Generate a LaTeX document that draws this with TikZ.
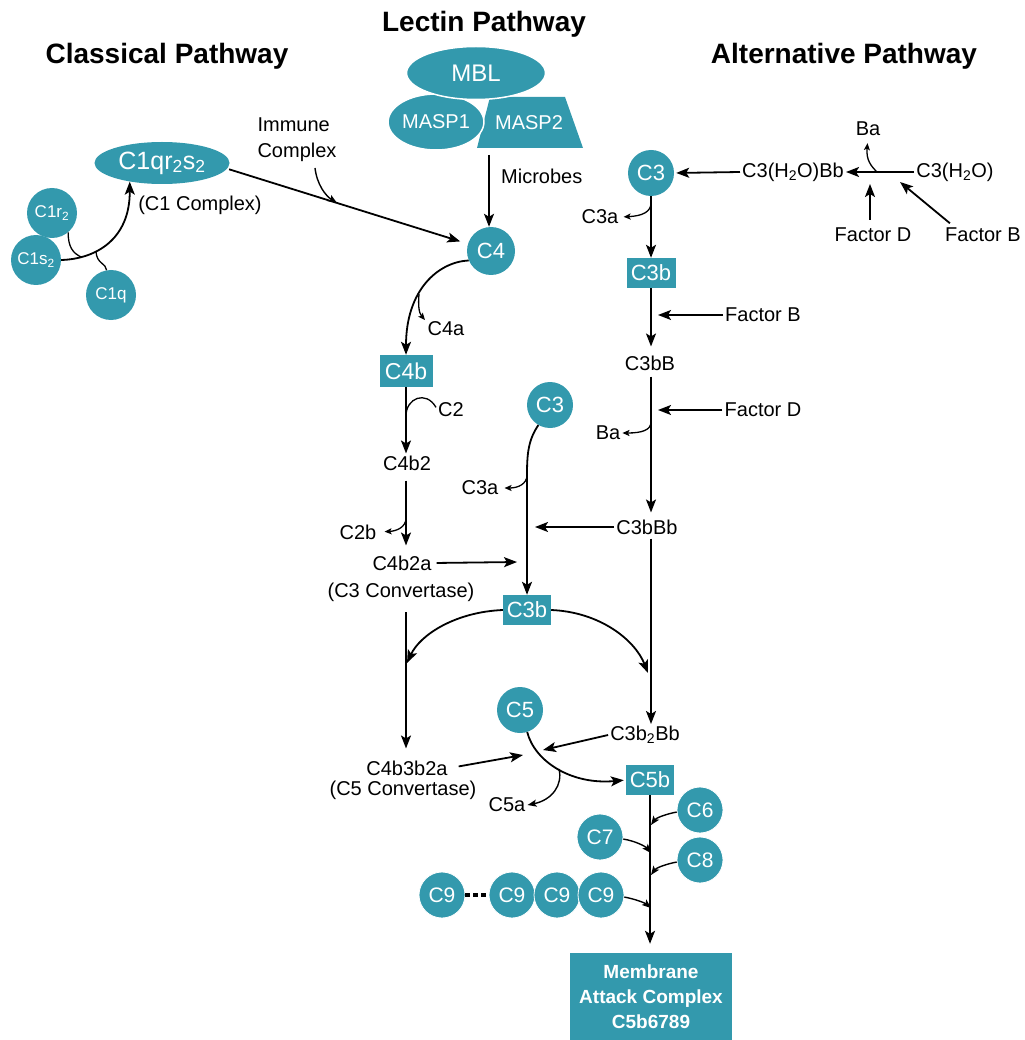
\documentclass[tikz,border=0pt]{standalone}
\usepackage{fontspec}
\setmainfont{Liberation Sans}
\usetikzlibrary{arrows.meta,shapes.geometric}
\definecolor{tealc}{HTML}{3399AD}
\begin{document}
\begin{tikzpicture}[x=1pt,y=-1pt,
  lbl/.style={inner sep=2pt,font=\fontsize{20}{24}\selectfont},
  ttl/.style={inner sep=0pt,font=\bfseries\fontsize{28}{32}\selectfont},
  circ/.style={circle,fill=tealc,minimum size=47pt,inner sep=0pt,text=white,font=\fontsize{22}{24}\selectfont},
  scirc/.style={circ,minimum size=50pt,font=\fontsize{17}{20}\selectfont},
  ncirc/.style={circ,minimum size=46pt,draw=white,line width=0.8pt,font=\fontsize{21}{24}\selectfont},
  sbox/.style={rectangle,fill=tealc,minimum width=49pt,minimum height=30pt,inner sep=0pt,text=white,font=\fontsize{22}{24}\selectfont},
  arr/.style={line width=1.8pt,-{Stealth[length=13pt,width=10pt,inset=3pt]}},
  marr/.style={line width=1.4pt,-{Stealth[length=9pt,width=7pt,inset=2pt]}},
  sarr/.style={line width=1.3pt,-{Stealth[length=7pt,width=6pt,inset=1.5pt]}},
  ln/.style={line width=1.3pt},
]
\useasboundingbox (0,0) rectangle (1024,1040);

% ---------- titles
\node[ttl] (tcl) at (167,56) {Classical Pathway};
\node[ttl] (tle) at (484,24) {Lectin Pathway};
\node[ttl] (tal) at (844,56) {Alternative Pathway};

% ---------- lectin complex
\fill[tealc] (477,148) -- (490,97) -- (565,97) -- (583,148) -- cycle;
\node[inner sep=0pt,text=white,font=\fontsize{20}{24}\selectfont] (masp2) at (529,123) {MASP2};
\node[ellipse,fill=tealc,draw=white,line width=1.5pt,minimum width=88pt,minimum height=56pt,inner sep=0pt,text=white,font=\fontsize{20}{24}\selectfont] (masp1) at (436,122) {MASP1};
\node[ellipse,fill=tealc,draw=white,line width=1.5pt,minimum width=139pt,minimum height=53pt,inner sep=0pt,text=white,font=\fontsize{24}{26}\selectfont] (mbl) at (476,73) {MBL};
\node[lbl,anchor=west] (microbes) at (499,176) {Microbes};

% ---------- classical nodes
\node[ellipse,fill=tealc,minimum width=135pt,minimum height=42pt,inner sep=0pt,text=white,font=\fontsize{25}{27}\selectfont] (c1) at (162,163) {C1qr\textsubscript{2}s\textsubscript{2}};
\node[lbl] (c1cx) at (200,205) {(C1 Complex)};
\node[scirc] (c1r) at (52,213) {C1r\textsubscript{2}};
\node[scirc] (c1s) at (36,260) {C1s\textsubscript{2}};
\node[scirc] (c1q) at (111,295) {C1q};
\node[lbl,align=left,font=\fontsize{20}{26}\selectfont] (imm) at (297,140) {Immune\\Complex};

\node[circ,minimum size=48pt] (c4) at (491,251) {C4};
\node[lbl] (c4a) at (446,329) {C4a};
\node[sbox,minimum width=53pt,minimum height=32pt,font=\fontsize{23}{26}\selectfont] (c4b) at (406,371) {C4b};
\node[lbl] (c2) at (451,410) {C2};
\node[lbl] (c4b2) at (407,463) {C4b2};
\node[lbl] (c2b) at (358,532) {C2b};
\node[lbl] (c4b2a) at (402,563) {C4b2a};
\node[lbl] (c3conv) at (401,592) {(C3 Convertase)};
\node[circ,minimum size=46pt] (c3m) at (550,405) {C3};
\node[lbl] (c3am) at (480,488) {C3a};
\node[sbox,minimum width=48pt] (c3bm) at (527,610) {C3b};
\node[lbl] (c4b3b2a) at (407,768) {C4b3b2a};
\node[lbl] (c5conv) at (403,790) {(C5 Convertase)};
\node[circ,minimum size=46pt] (c5) at (520,710) {C5};
\node[lbl] (c5a) at (507,805) {C5a};
\node[sbox,minimum width=48pt] (c5b) at (650,780) {C5b};
\node[ncirc] (c6) at (700,810) {C6};
\node[ncirc] (c7) at (600,837) {C7};
\node[ncirc] (c8) at (700,860) {C8};
\node[ncirc] (c9a) at (442,895) {C9};
\node[ncirc] (c9b) at (512,895) {C9};
\node[ncirc] (c9c) at (557,895) {C9};
\node[ncirc] (c9d) at (601,895) {C9};
\node[rectangle,fill=tealc,minimum width=162pt,minimum height=88pt,text=white,align=center,font=\bfseries\fontsize{19}{25}\selectfont] (mac) at (651,997) {Membrane\\Attack Complex\\C5b6789};

% ---------- alternative nodes
\node[circ,minimum size=46pt] (c3alt) at (651,173) {C3};
\node[lbl] (h2obb) at (793,172) {C3(H\textsubscript{2}O)Bb};
\node[lbl] (h2o) at (955,172) {C3(H\textsubscript{2}O)};
\node[lbl] (baT) at (868,129) {Ba};
\node[lbl] (fdT) at (873,235) {Factor D};
\node[lbl] (fbT) at (983,235) {Factor B};
\node[lbl] (c3aalt) at (600,217) {C3a};
\node[sbox] (c3balt) at (651,273) {C3b};
\node[lbl] (fb2) at (763,315) {Factor B};
\node[lbl] (c3bB) at (650,363) {C3bB};
\node[lbl] (fd2) at (763,410) {Factor D};
\node[lbl] (ba2) at (608,433) {Ba};
\node[lbl] (c3bbb) at (647,527) {C3bBb};
\node[lbl] (c3b2bb) at (645,735) {C3b\textsubscript{2}Bb};

% ---------- junction coordinates
\coordinate (j1) at (81,257);
\coordinate (j1b) at (96,252);
\coordinate (im0) at (315,168);
\coordinate (im1) at (337,203);
\coordinate (mic0) at (489,155);
\coordinate (b4) at (419,294);
\coordinate (j2) at (406,416);
\coordinate (j2b) at (406,518);
\coordinate (j3) at (517,562);
\coordinate (j4b) at (527,475);
\coordinate (j4) at (535,527);
\coordinate (v1) at (406,612);
\coordinate (v1t) at (407,663);
\coordinate (v2t) at (648,673);
\coordinate (j5) at (523,755);
\coordinate (j6) at (543,750);
\coordinate (b5) at (559,769);
\coordinate (k6) at (651,825);
\coordinate (k7) at (651,853);
\coordinate (k8) at (651,875);
\coordinate (k9) at (651,908);
\coordinate (jb) at (877,172);
\coordinate (jd) at (870,184);
\coordinate (jbb) at (900,182);
\coordinate (j7) at (651,203);
\coordinate (j8) at (651,422);

% ---------- classical connectors
\draw[arr] (c1s.east) .. controls (95,259) and (130,240) .. (c1.210);
\draw[ln] (c1r.-50) .. controls (68,247) and (73,253) .. (j1);
\draw[ln] (c1q.100) .. controls (106,263) and (97,264) .. (j1b);
\draw[arr,shorten <=2pt,shorten >=8pt] (c1.-5) -- (c4);
\draw[marr] (im0) .. controls (317,185) and (326,196) .. (im1);

% ---------- lectin connector
\draw[arr] (mic0) -- (mic0 |- c4.north);

% ---------- C4 branch
\draw[arr] (c4.203) .. controls (438,262) and (406,290) .. (c4b.north);
\draw[sarr] (b4) .. controls (418,306) and (419,313) .. (425,320);
\draw[arr] (c4b.south) -- (c4b.south |- c4b2.north);
\draw[ln] (j2) .. controls (406,398) and (426,390) .. (c2.170);
\draw[arr,shorten <=8pt,shorten >=8pt] (c4b.south |- c4b2.south) -- (c4b.south |- c4b2a.north);
\draw[sarr,shorten >=6pt] (j2b) .. controls (406,527) and (397,531) .. (c2b.east);
\draw[arr,shorten <=3pt] (c4b2a.east) -- (j3);

% ---------- middle C3
\draw[arr] (c3m.240) .. controls (528,440) and (527,455) .. (j4b) -- (j4b |- c3bm.north);
\draw[sarr,shorten >=4pt] (j4b) .. controls (527,484) and (518,488) .. (c3am.east);
\draw[arr] (c3bbb.west) -- (j4);
\draw[arr] (c3bm.west) .. controls (455,612) and (420,635) .. (v1t);
\draw[arr] (c3bm.east) .. controls (600,612) and (635,640) .. (v2t);
\draw[arr,shorten >=10pt] (v1) -- (v1 |- c4b3b2a.north);

% ---------- C5
\draw[arr,shorten <=9pt] (c4b3b2a.east) -- (j5);
\draw[arr] (c3b2bb.west) -- (j6);
\draw[arr,shorten >=2pt] (c5.-72) .. controls (535,762) and (572,785) .. (c5b.west);
\draw[marr] (b5) .. controls (563,785) and (552,800) .. (c5a.east);
\draw[arr,shorten >=9pt] (c5b.south) -- (c5b.south |- mac.north);
\draw[marr] (c6.185) .. controls (666,814) and (656,818) .. (k6);
\draw[marr] (c7.-5) .. controls (635,841) and (645,846) .. (k7);
\draw[marr] (c8.185) .. controls (666,864) and (656,868) .. (k8);
\draw[marr] (c9d.-5) .. controls (635,899) and (645,903) .. (k9);
\draw[line width=3.5pt,dash pattern=on 5pt off 3pt] (c9a.east) -- (c9b.west);

% ---------- alternative connectors
\draw[arr,shorten >=2pt] (h2obb.west) -- (c3alt.east);
\draw[arr] (h2o.west) -- (h2obb.east);
\draw[sarr,shorten >=5pt] (jb) .. controls (871,166) and (866,160) .. (baT.south);
\draw[arr,shorten <=6pt] (fdT.north -| jd) -- (jd);
\draw[arr,shorten <=4pt] ([xshift=-30pt]fbT.north) -- (jbb);
\draw[arr] (c3alt) -- (c3balt);
\draw[sarr,shorten >=3pt] (j7) .. controls (651,212) and (642,216) .. (c3aalt.east);
\draw[arr,shorten >=7pt] (c3balt.south) -- (c3balt.south |- c3bB.north);
\draw[arr,shorten >=7pt] (fb2.west) -- (fb2.west -| c3balt);
\draw[arr,shorten <=4pt,shorten >=5pt] (c3bB.south -| c3balt) -- (c3bbb.north -| c3balt);
\draw[arr,shorten >=7pt] (fd2.west) -- (fd2.west -| c3balt);
\draw[sarr] (j8) .. controls (651,430) and (642,433) .. (ba2.east);
\draw[arr,shorten <=2pt] (c3bbb.south -| c3balt) -- (c3b2bb.north -| c3balt);
\end{tikzpicture}
\end{document}
